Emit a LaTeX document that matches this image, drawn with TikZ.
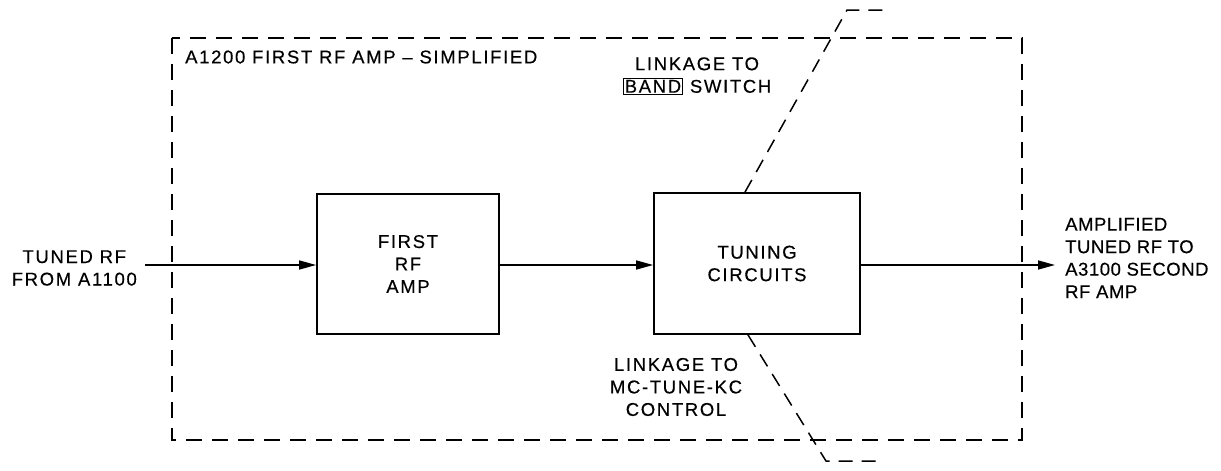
\documentclass[tikz,border=0pt]{standalone}
\usepackage{fontspec}
\setmainfont[LetterSpace=9,FakeBold=0.4]{Liberation Sans}
\usetikzlibrary{arrows.meta,calc}
\begin{document}
\begin{tikzpicture}[x=1pt,y=-1pt,
  txt/.style={font=\fontsize{18.5}{22.5}\selectfont, inner sep=0pt, align=center},
  blockbox/.style={draw, line width=1.8pt, inner sep=0pt, txt},
  frame/.style={line width=1.6pt, dash pattern=on 16pt off 10pt},
  link/.style={line width=1.5pt, dash pattern=on 14pt off 9pt},
  sig/.style={line width=1.6pt, -{Triangle[length=17pt,width=9pt]}},
]
\useasboundingbox (0,0) rectangle (1221,471);
\draw[frame] (172,38) rectangle (1022,440);
\node[txt, anchor=west] (title) at (185,57) {A1200 FIRST RF AMP -- SIMPLIFIED};
\node[blockbox, minimum width=182pt, minimum height=140pt] (amp) at (408,264) {FIRST\\RF\\AMP};
\node[blockbox, minimum width=206pt, minimum height=141pt] (tune) at (757,263.5) {TUNING\\CIRCUITS};
\node[txt, anchor=east] (in) at (137,268) {TUNED RF\\FROM A1100};
\node[txt, align=left, anchor=west, font=\fontsize{18.5}{22.5}\selectfont\addfontfeature{LetterSpace=3}] (out) at (1065,258) {AMPLIFIED\\TUNED RF TO\\A3100 SECOND\\RF AMP};
\node[txt] (band) at (697,76) {LINKAGE TO\\{\fboxsep=1pt\fboxrule=1pt\fbox{BAND}} SWITCH};
\node[txt] (mc) at (676,387) {LINKAGE TO\\MC-TUNE-KC\\CONTROL};
\coordinate (inA) at (145,265);
\coordinate (outA) at (1055,265);
\coordinate (topK) at (847,10);
\coordinate (topE) at (884,10);
\coordinate (botK) at (826,461);
\coordinate (botE) at (884,461);
\draw[sig] (inA) -- (inA -| amp.west);
\draw[sig] (amp.east |- inA) -- (tune.west |- inA);
\draw[sig] (tune.east |- inA) -- (outA);
\draw[link] ([xshift=-12pt]tune.north) -- (topK) -- (topE);
\draw[link] ([xshift=-9pt]tune.south) -- (botK) -- (botE);
\end{tikzpicture}
\end{document}
